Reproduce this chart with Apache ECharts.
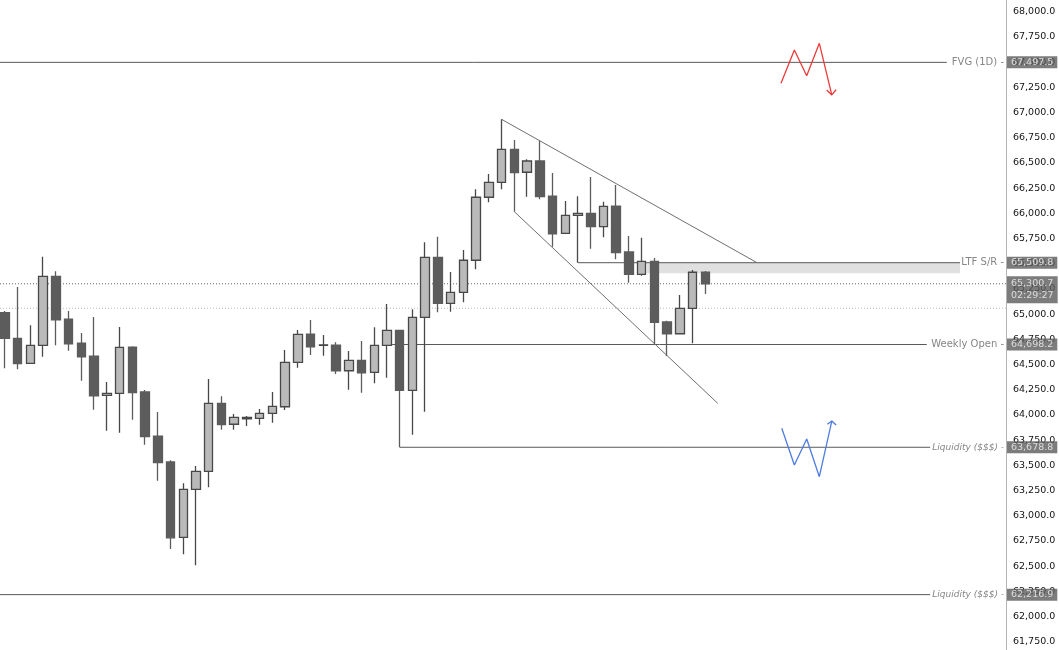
<!DOCTYPE html>
<html>
<head>
<meta charset="utf-8">
<script src="https://cdn.jsdelivr.net/npm/echarts@6.0.0/dist/echarts.min.js"></script>
<style>
  html, body { margin: 0; padding: 0; background: #fff; }
  #chart { width: 1059px; height: 650px; }
</style>
</head>
<body>
<div id="chart"></div>
<script>
// OHLC per bar
const opens  = [65014, 64760, 64512, 64690, 65375, 64951, 64713, 64584, 64194, 64214, 64673, 64227, 63790, 63533, 62785, 63262,
                63440, 64115, 63907, 63962, 63966, 64016, 64081, 64522, 64802, 64690, 64693, 64438, 64541, 64422, 64690, 64839,
                64244, 64968, 65563, 65107, 65216, 65534, 66159, 66307, 66635, 66407, 66519, 66169, 65801, 65980, 66000, 65867,
                66072, 65616, 65395, 65524, 64922, 64805, 65057, 65415]
const closes = [64760, 64508, 64690, 65375, 64944, 64706, 64577, 64190, 64214, 64670, 64220, 63784, 63526, 62781, 63262, 63440,
                64115, 63903, 63976, 63976, 64016, 64085, 64522, 64799, 64676, 64695, 64438, 64541, 64418, 64690, 64839, 64244,
                64968, 65563, 65107, 65216, 65534, 66159, 66307, 66635, 66403, 66519, 66165, 65797, 65980, 66000, 65867, 66069,
                65609, 65395, 65524, 64918, 64805, 65057, 65415, 65301]
const lows   = [64462, 64452, 64505, 64577, 64690, 64637, 64339, 64051, 63843, 63823, 63952, 63704, 63347, 62669, 62617, 62508,
                63282, 63853, 63853, 63890, 63903, 63923, 64048, 64468, 64594, 64587, 64406, 64250, 64220, 64313, 64369, 63679,
                63803, 64032, 65018, 65024, 65117, 65444, 66109, 66238, 66016, 66165, 66139, 65668, 65801, 65510, 65649, 65762,
                65543, 65311, 65381, 64693, 64584, 64805, 64710, 65199]
const highs  = [65031, 65269, 64889, 65569, 65424, 65031, 64812, 64971, 64326, 64872, 64680, 64247, 64029, 63549, 63321, 63493,
                64356, 64184, 64009, 63989, 64058, 64227, 64644, 64842, 64941, 64792, 64720, 64634, 64733, 64869, 65100, 64845,
                65047, 65712, 65768, 65418, 65636, 66238, 66390, 66932, 66727, 66536, 66717, 66400, 66122, 66169, 66360, 66115,
                66281, 65775, 65758, 65556, 64934, 65189, 65437, 65427]

// horizontal levels: name, price, from bar, to bar
const levelNames  = ['FVG (1D)', 'LTF S/R', 'Weekly Open', 'Liquidity ($$$)', 'Liquidity ($$$)']
const levelPrices = [67497.5, 65509.8, 64698.2, 63678.8, 62216.9]
const levelFrom   = [-0.4, 45, 30.4, 31, -0.4]
const levelTo     = [73.96, 75.0, 72.39, 72.65, 72.65]
const levelItalic = [false, false, false, true, true]

const lastPrice = 65300.7
const countdown = '02:29:27'
const sessionOpen = 65058

// drawings, in [bar, price]
const upperTrend = [[39, 66932], [59.06, 65509.8]]
const lowerTrend = [[40, 66016], [55.97, 64115]]
const ltfZone = [[50.4, 65509.8], [75.0, 65405]]
const bearPath = [[60.94, 67290], [61.99, 67620], [62.96, 67365], [63.95, 67686], [64.93, 67174]]
const bearHead = [[64.53, 67223], [64.93, 67174], [65.27, 67226]]
const bullPath = [[61.0, 63867], [61.99, 63503], [62.96, 63761], [63.95, 63387], [64.93, 63939]]
const bullHead = [[64.58, 63907], [64.93, 63939], [65.27, 63900]]

const Y_MIN = 61500
const Y_MAX = 68250
const Y_STEP = 250
const X_MIN = -0.393
const X_MAX = 78.61

const FONT = 'DejaVu Sans'
const fmt = v => v.toLocaleString('en-US', { minimumFractionDigits: 1, maximumFractionDigits: 1 })

const chart = echarts.init(document.getElementById('chart'))

const levelSeries = levelPrices.map((p, i) => ({
  type: 'line',
  z: 1,
  silent: true,
  symbol: 'none',
  lineStyle: { color: '#595959', width: 1 },
  data: [[levelFrom[i], p], [levelTo[i], p]],
  markArea: i === 1 ? {
    silent: true,
    itemStyle: { color: '#e0e0e0' },
    data: [[{ coord: ltfZone[0] }, { coord: ltfZone[1] }]]
  } : undefined
}))

const plainLine = (data, color, extra) => Object.assign({
  type: 'line',
  silent: true,
  symbol: 'none',
  lineStyle: { color: color, width: 1 },
  data: data
}, extra || {})

const option = {
  animation: false,
  backgroundColor: '#ffffff',
  grid: { left: 0, right: 53, top: -13.5, bottom: -16.9, outerBoundsMode: 'none', containLabel: false },
  xAxis: {
    type: 'value',
    min: X_MIN,
    max: X_MAX,
    show: false
  },
  yAxis: {
    type: 'value',
    position: 'right',
    min: Y_MIN,
    max: Y_MAX,
    interval: Y_STEP,
    axisLine: { show: true, onZero: false, lineStyle: { color: '#b4b4b4' } },
    axisTick: { show: false },
    splitLine: { show: false },
    axisLabel: {
      color: '#131313',
      fontSize: 9.5,
      fontFamily: FONT,
      margin: 7,
      formatter: v => fmt(v)
    }
  },
  series: [
    ...levelSeries,
    plainLine([[X_MIN, lastPrice], [X_MAX, lastPrice]], '#666', { z: 1, lineStyle: { color: '#666666', width: 1, type: [1, 2] } }),
    plainLine([[X_MIN, sessionOpen], [X_MAX, sessionOpen]], '#bbb', { z: 1, lineStyle: { color: '#bbbbbb', width: 1, type: [1, 2] } }),
    plainLine(upperTrend, '#6f6f6f', { z: 1 }),
    plainLine(lowerTrend, '#6f6f6f', { z: 1 }),
    {
      type: 'candlestick',
      z: 5,
      silent: true,
      barWidth: 9,
      encode: { x: 0, y: [1, 2, 3, 4] },
      itemStyle: {
        color: '#bababa',
        color0: '#5c5c5c',
        borderColor: '#484848',
        borderColor0: '#5c5c5c',
        borderWidth: 1.3
      },
      data: opens.map((o, i) => [i, o, closes[i], lows[i], highs[i]])
    },
    plainLine(bearPath, '#ec3b3b', { z: 6, lineStyle: { color: '#ec3b3b', width: 1.3 } }),
    plainLine(bearHead, '#ec3b3b', { z: 6, lineStyle: { color: '#ec3b3b', width: 1.3 } }),
    plainLine(bullPath, '#4d7cdf', { z: 6, lineStyle: { color: '#4d7cdf', width: 1.3 } }),
    plainLine(bullHead, '#4d7cdf', { z: 6, lineStyle: { color: '#4d7cdf', width: 1.3 } }),
    {
      // level names to the left of the price axis
      type: 'scatter',
      z: 10,
      silent: true,
      clip: false,
      symbolSize: 0,
      label: {
        show: true,
        position: 'left',
        distance: 2,
        color: '#666666',
        fontFamily: FONT,
        fontSize: 10
      },
      data: levelPrices.map((p, i) => ({
        value: [X_MAX, p],
        label: {
          formatter: levelNames[i] + ' -',
          fontStyle: levelItalic[i] ? 'italic' : 'normal',
          fontSize: levelItalic[i] ? 9 : 10
        }
      }))
    },
    {
      // price badges on the axis
      type: 'scatter',
      z: 10,
      silent: true,
      clip: false,
      symbolSize: 0,
      label: {
        show: true,
        position: 'right',
        distance: 1,
        color: '#f2f2f2',
        fontFamily: FONT,
        fontSize: 9.5,
        lineHeight: 11,
        backgroundColor: '#5b5b5b',
        padding: [1, 4, 0, 4]
      },
      data: levelPrices.map(p => ({
        value: [X_MAX, p],
        label: { formatter: fmt(p) }
      })).concat([{
        value: [X_MAX, lastPrice],
        label: {
          formatter: fmt(lastPrice) + '\n' + countdown,
          lineHeight: 12,
          padding: [2, 4, 1, 4],
          offset: [0, 6]
        }
      }])
    }
  ]
}

chart.setOption(option)

window.addEventListener('resize', () => chart.resize())
</script>
</body>
</html>
